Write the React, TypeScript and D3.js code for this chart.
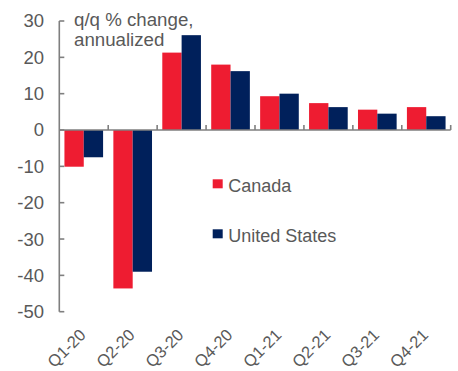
import React from "react";
import * as d3 from "d3";

const categories = ["Q1-20", "Q2-20", "Q3-20", "Q4-20", "Q1-21", "Q2-21", "Q3-21", "Q4-21"];
const seriesNames = ["Canada", "United States"];
const canada = [-10.1, -43.6, 21.3, 18.0, 9.3, 7.4, 5.6, 6.3];
const unitedStates = [-7.5, -39.0, 26.1, 16.2, 10.0, 6.3, 4.5, 3.8];
const yTicks = [30, 20, 10, 0, -10, -20, -30, -40, -50];
const titleLines = ["q/q % change,", "annualized"];

const colors = ["#EE1C31", "#00205B"];
const textColor = "#595959";
const axisColor = "#7F7F7F";
const font = "'Liberation Sans', Arial, sans-serif";

export default function App() {
  const W = 458;
  const H = 371;
  const left = 59.3;
  const right = 450.7;
  const y = d3.scaleLinear().domain([-50, 30]).range([311.7, 21]);
  const x0 = d3
    .scaleBand<string>()
    .domain(categories)
    .range([left, right])
    .paddingInner(0.21)
    .paddingOuter(0.105);
  const x1 = d3.scaleBand<string>().domain(seriesNames).range([0, x0.bandwidth()]);
  const step = x0.step();
  const series = [canada, unitedStates];
  const y0 = y(0);

  return (
    <svg
      width={W}
      height={H}
      style={{ position: "absolute", left: 0, top: 0, background: "#fff" }}
      fontFamily={font}
    >
      {categories.map((c, i) => (
        <g key={c}>
          {series.map((s, j) => {
            const v = s[i];
            const yy = Math.min(y(v), y0);
            const h = Math.abs(y(v) - y0);
            return (
              <rect
                key={j}
                x={(x0(c) as number) + (x1(seriesNames[j]) as number)}
                y={yy}
                width={x1.bandwidth()}
                height={h}
                fill={colors[j]}
              />
            );
          })}
        </g>
      ))}

      <line x1={left} x2={left} y1={y(30)} y2={y(-50)} stroke={axisColor} strokeWidth={1.6} />
      {yTicks.map((t) => (
        <g key={t}>
          <line x1={left} x2={left + 5} y1={y(t)} y2={y(t)} stroke={axisColor} strokeWidth={1.6} />
          <text x={44} y={y(t)} dy="0.35em" textAnchor="end" fontSize={18.5} fill={textColor}>
            {t}
          </text>
        </g>
      ))}

      <line x1={left} x2={right} y1={y0} y2={y0} stroke={axisColor} strokeWidth={1.6} />
      {categories.map((c, i) => (
        <line
          key={c}
          x1={left + (i + 1) * step}
          x2={left + (i + 1) * step}
          y1={y0}
          y2={y0 - 5}
          stroke={axisColor}
          strokeWidth={1.6}
        />
      ))}

      {categories.map((c) => {
        const cx = (x0(c) as number) + x0.bandwidth() / 2 + 3;
        const cy = 336;
        return (
          <text
            key={c}
            x={cx}
            y={cy}
            textAnchor="end"
            fontSize={16.5}
            fill={textColor}
            transform={`rotate(-45, ${cx}, ${cy})`}
          >
            {c}
          </text>
        );
      })}

      {titleLines.map((t, i) => (
        <text key={t} x={74} y={26 + i * 20} fontSize={18.7} fill={textColor}>
          {t}
        </text>
      ))}

      {seriesNames.map((n, j) => (
        <g key={n} transform={`translate(212.7, ${179.3 + j * 50})`}>
          <rect x={0} y={0} width={10} height={9} fill={colors[j]} />
          <text x={15.6} y={12.4} fontSize={18} fill={textColor}>
            {n}
          </text>
        </g>
      ))}
    </svg>
  );
}
